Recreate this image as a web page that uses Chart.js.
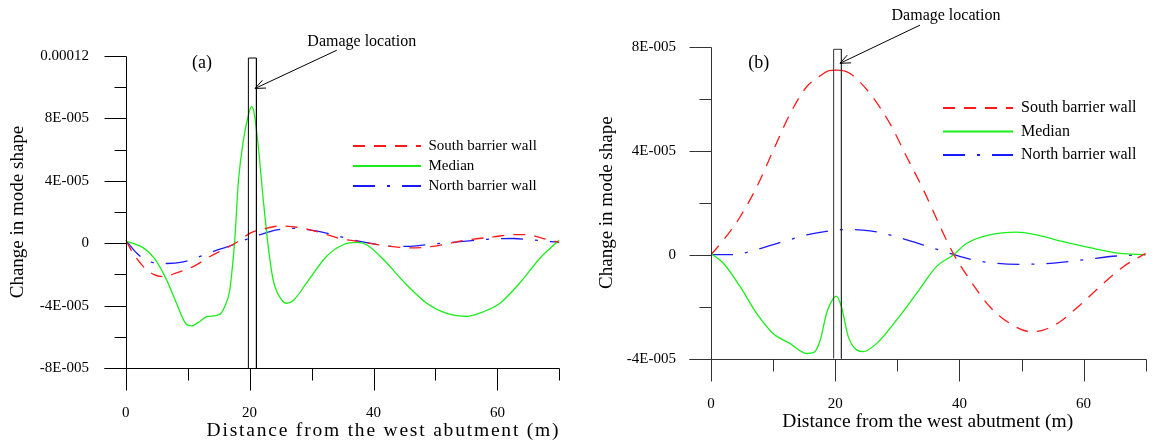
<!DOCTYPE html>
<html>
<head>
<meta charset="utf-8">
<title>Change in mode shape</title>
<script src="https://cdn.jsdelivr.net/npm/chart.js@4/dist/chart.umd.min.js"></script>
<style>
  html, body { margin: 0; padding: 0; background: #fff; }
  #wrap { position: relative; width: 1157px; height: 442px; overflow: hidden; }
  canvas { position: absolute; top: 0; }
</style>
</head>
<body>
<div id="wrap">
  <canvas id="chartA" width="578" height="442" style="left:0"></canvas>
  <canvas id="chartB" width="579" height="442" style="left:578px"></canvas>
</div>
<script>
// series values are written in units of 1e-5
const SCALE = 1e-5;

const seriesNames = ['South barrier wall', 'Median', 'North barrier wall'];
const xTickLabels = ['0', '', '20', '', '40', '', '60', ''];
const yTickLabelsA = ['-8E-005', '', '-4E-005', '', '0', '', '4E-005', '', '8E-005', '', '0.00012'];
const yTickLabelsB = ['-4E-005', '', '0', '', '4E-005', '', '8E-005'];

// (a)
const southA = [[0, 0.2], [1.2, -0.65], [2.85, -1.5], [4.5, -2.0], [6.1, -2.15], [8.2, -1.9], [10.9, -1.5],
  [13.6, -0.85], [16.3, -0.3], [18.5, 0.2], [20.1, 0.65], [22.2, 0.9], [24.9, 1.1], [28.1, 1.0], [30.8, 0.75],
  [34.6, 0.3], [37.8, 0.1], [41.6, -0.15], [45.9, -0.3], [48.6, -0.25], [51.8, -0.05], [55.0, 0.2], [59.3, 0.4],
  [62.6, 0.55], [64.7, 0.55], [67.4, 0.3], [70, 0.05]];
const medianA = [[0, 0.15], [2.85, -0.3], [4.7, -1.0], [6.6, -2.35], [8.2, -3.85], [9.8, -5.2], [10.6, -5.3],
  [12.0, -5.0], [13.1, -4.7], [15.0, -4.6], [16.0, -4.05], [16.8, -3.0], [17.2, -1.6], [17.6, 0.2], [18.2, 4.0],
  [19.0, 6.6], [19.8, 8.2], [20.3, 8.75], [20.7, 8.4], [21.4, 6.2], [22.2, 2.8], [23.0, -0.2], [23.8, -2.35],
  [25.2, -3.65], [26.0, -3.85], [27.1, -3.65], [29.2, -2.55], [32.4, -0.85], [35.1, -0.1], [37.3, 0.05],
  [38.9, -0.1], [41.6, -1.05], [45.3, -2.65], [48.6, -3.85], [51.8, -4.5], [55.0, -4.7], [57.7, -4.4],
  [60.4, -3.85], [63.6, -2.55], [66.9, -0.95], [70, 0.2]];
const northA = [[0, 0.2], [1.8, -0.65], [3.9, -1.2], [6.6, -1.3], [9.3, -1.2], [12.0, -0.85], [14.7, -0.45],
  [17.4, -0.1], [19.5, 0.25], [21.7, 0.55], [24.4, 0.85], [27.1, 0.95], [29.7, 0.85], [33.5, 0.55], [36.7, 0.2],
  [40.0, -0.05], [43.2, -0.2], [45.9, -0.2], [49.7, -0.05], [54.0, 0.1], [58.3, 0.25], [62.6, 0.3], [65.8, 0.2],
  [70, 0.05]];
const damageA = [[19.8, -8], [19.8, 11.87], [21.1, 11.87], [21.1, -8]];

// (b)
const southB = [[0, 0], [2.0, 0.56], [4.7, 1.46], [7.35, 2.6], [10.0, 4.0], [12.7, 5.4], [15.4, 6.46],
  [17.6, 6.88], [19.0, 7.08], [20.2, 7.1], [21.3, 7.08], [22.4, 6.97], [25.6, 6.2], [28.8, 5.05], [31.5, 3.77],
  [34.2, 2.5], [36.9, 1.08], [39.0, 0.05], [41.7, -0.97], [44.9, -2.0], [48.1, -2.64], [51.4, -2.96],
  [53.5, -2.9], [56.2, -2.58], [59.4, -1.94], [63.2, -1.1], [66.4, -0.46], [70, 0.05]];
const medianB = [[0, 0.05], [2.0, -0.33], [4.7, -1.23], [7.35, -2.26], [10.0, -3.03], [12.7, -3.41], [15.4, -3.8],
  [16.5, -3.77], [17.6, -3.28], [18.6, -2.26], [19.7, -1.68], [20.2, -1.59], [21.0, -2.0], [22.1, -3.15],
  [23.5, -3.67], [24.5, -3.73], [26.7, -3.41], [29.9, -2.51], [33.1, -1.49], [36.3, -0.46], [39.0, -0.01],
  [41.2, 0.44], [44.9, 0.76], [49.2, 0.87], [52.4, 0.76], [56.7, 0.5], [61.0, 0.27], [65.9, 0.05], [70, 0]];
const northB = [[0, 0], [3.6, 0], [7.35, 0.2], [11.6, 0.5], [15.4, 0.76], [19.2, 0.92], [21.8, 0.97],
  [25.6, 0.92], [29.9, 0.69], [34.2, 0.37], [38.5, 0.05], [42.2, -0.2], [46.0, -0.33], [50.3, -0.37],
  [54.6, -0.33], [59.9, -0.2], [65.3, -0.05], [70, 0]];
const damageB = [[19.75, -4], [19.75, 7.9], [21.0, 7.9], [21.0, -4]];

const toPoints = pts => pts.map(([x, v]) => ({ x: x, y: v * SCALE }));

Chart.defaults.font.family = '"Liberation Serif", "Times New Roman", serif';
Chart.defaults.color = '#000';

// axis lines and tick marks (labelled ticks are long, the others short)
const axisFrame = color => ({
  id: 'axisFrame',
  afterDraw(chart) {
    const { ctx, chartArea: area, scales: { x, y } } = chart;
    const px = v => Math.round(v) + 0.5;
    const left = px(area.left), bottom = px(area.bottom);
    ctx.save();
    ctx.strokeStyle = color;
    ctx.lineWidth = 1;
    ctx.beginPath();
    ctx.moveTo(left - 22, bottom);
    ctx.lineTo(px(area.right), bottom);
    ctx.moveTo(left, px(area.top));
    ctx.lineTo(left, bottom);
    x.ticks.forEach(t => {
      const p = px(x.getPixelForValue(t.value));
      ctx.moveTo(p, bottom);
      ctx.lineTo(p, bottom + (t.label ? 22 : 12));
    });
    y.ticks.forEach(t => {
      const p = px(y.getPixelForValue(t.value));
      ctx.moveTo(left - (t.label ? 22 : 12), p);
      ctx.lineTo(left, p);
    });
    ctx.stroke();
    ctx.restore();
  }
});

// panel tag, damage note with its arrow, x axis title
const notes = n => ({
  id: 'notes',
  afterDraw(chart) {
    const { ctx, scales: { x, y } } = chart;
    const at = ([vx, vy]) => [x.getPixelForValue(vx), y.getPixelForValue(vy * SCALE)];
    ctx.save();
    ctx.fillStyle = '#000';
    ctx.textAlign = 'center';
    ctx.textBaseline = 'middle';
    ctx.font = '18px "Liberation Serif"';
    let [tx, ty] = at(n.tag);
    ctx.fillText(n.tagText, tx, ty);
    ctx.font = '16px "Liberation Serif"';
    [tx, ty] = at(n.damage);
    ctx.fillText('Damage location', tx, ty);

    const [x1, y1] = at(n.arrowFrom), [x2, y2] = at(n.arrowTo);
    const ang = Math.atan2(y2 - y1, x2 - x1);
    ctx.strokeStyle = '#000';
    ctx.lineWidth = 1;
    ctx.beginPath();
    ctx.moveTo(x1, y1);
    ctx.lineTo(x2, y2);
    [0.4, -0.4].forEach(d => {
      ctx.moveTo(x2, y2);
      ctx.lineTo(x2 - 11 * Math.cos(ang + d), y2 - 11 * Math.sin(ang + d));
    });
    ctx.stroke();

    ctx.font = n.titleFont;
    ctx.letterSpacing = n.titleSpacing + 'px';
    ctx.textBaseline = 'alphabetic';
    ctx.fillText('Distance from the west abutment (m)', x.getPixelForValue(n.titleX), n.titleBaseline);
    ctx.restore();
  }
});

// move the legend box inside the plot
const legendSpot = l => ({
  id: 'legendSpot',
  beforeDraw(chart) {
    const lg = chart.legend;
    lg.left = l.x - l.pad;
    lg.top = l.y - l.size / 2 - l.pad;
    lg.right = chart.width;
    lg.bottom = chart.height;
  }
});

function buildChart(id, p) {
  const canvas = document.getElementById(id);
  const W = canvas.width, H = canvas.height;
  const solid = c => (p.solidTop && c.p0.parsed.x >= p.solidTop[0] && c.p1.parsed.x <= p.solidTop[1]) ? [] : undefined;
  return new Chart(canvas, {
    type: 'line',
    data: {
      datasets: [
        { label: 'damage', data: toPoints(p.damage), borderColor: p.axisColor, borderWidth: 1, tension: 0, pointRadius: 0 },
        { label: seriesNames[0], data: toPoints(p.south), borderColor: '#ff1a1a', borderWidth: 1.3,
          borderDash: [12, 9], pointRadius: 0, cubicInterpolationMode: 'monotone', segment: { borderDash: solid } },
        { label: seriesNames[1], data: toPoints(p.median), borderColor: '#1aee1a', borderWidth: 1.3,
          pointRadius: 0, cubicInterpolationMode: 'monotone' },
        { label: seriesNames[2], data: toPoints(p.north), borderColor: '#1a1aff', borderWidth: 1.3,
          borderDash: [22, 12, 3, 12], pointRadius: 0, cubicInterpolationMode: 'monotone' }
      ]
    },
    options: {
      responsive: false,
      animation: false,
      devicePixelRatio: 1,
      events: [],
      layout: { padding: { left: 0, top: p.area.top, right: W - p.area.right, bottom: 0 } },
      plugins: {
        tooltip: { enabled: false },
        legend: {
          position: 'chartArea',
          align: 'start',
          labels: {
            usePointStyle: true,
            pointStyle: 'line',
            pointStyleWidth: p.legend.width,
            padding: p.legend.pad,
            color: '#000',
            font: { size: p.legend.size },
            generateLabels: chart => Chart.defaults.plugins.legend.labels.generateLabels(chart)
              .filter(item => item.datasetIndex > 0)
              .map(item => {
                const ds = chart.data.datasets[item.datasetIndex];
                return Object.assign(item, { lineWidth: 2, lineDash: ds.borderDash || [], strokeStyle: ds.borderColor });
              })
          }
        }
      },
      scales: {
        x: {
          type: 'linear',
          min: 0,
          max: 70,
          afterFit: s => { s.height = H - p.area.bottom; s.paddingLeft = 0; s.paddingRight = 0; },
          grid: { display: false, drawTicks: false },
          border: { display: false },
          ticks: {
            stepSize: 10, autoSkip: false, maxRotation: 0, padding: 36, color: '#000',
            font: { size: 15 },
            callback: (v, i) => xTickLabels[i]
          }
        },
        y: {
          type: 'linear',
          min: p.yMin * SCALE,
          max: p.yMax * SCALE,
          afterFit: s => { s.width = p.area.left; s.paddingTop = 0; s.paddingBottom = 0; },
          grid: { display: false, drawTicks: false },
          border: { display: false },
          ticks: {
            stepSize: 2 * SCALE, autoSkip: false, padding: p.yPad, color: '#000',
            font: { size: 15 },
            callback: (v, i) => p.yLabels[i]
          },
          title: {
            display: true,
            text: 'Change in mode shape',
            color: '#000',
            font: { size: 19 },
            padding: { top: p.yTitlePad, bottom: 0 }
          }
        }
      }
    },
    plugins: [axisFrame(p.axisColor), notes(p.notes), legendSpot(p.legend)]
  });
}

buildChart('chartA', {
  south: southA, median: medianA, north: northA, damage: damageA,
  yMin: -8, yMax: 12, yLabels: yTickLabelsA, yPad: 36.7, yTitlePad: 6.9,
  area: { left: 125.7, top: 56, right: 559.4, bottom: 368 },
  axisColor: '#000',
  legend: { x: 353, y: 146, pad: 5, width: 68, size: 15 },
  notes: {
    tagText: '(a)', tag: [12.3, 11.54], damage: [38.1, 12.9],
    arrowFrom: [34.07, 12.37], arrowTo: [20.88, 9.92],
    titleX: 41.6, titleBaseline: 436, titleFont: '19.5px "Liberation Serif"', titleSpacing: 1.8
  }
});

buildChart('chartB', {
  south: southB, median: medianB, north: northB, damage: damageB, solidTop: [18.9, 21.4],
  yMin: -4, yMax: 8, yLabels: yTickLabelsB, yPad: 35, yTitlePad: 17.3,
  area: { left: 133, top: 46.7, right: 567.7, bottom: 358.7 },
  axisColor: '#333',
  legend: { x: 365, y: 108, pad: 7.5, width: 70, size: 16 },
  notes: {
    tagText: '(b)', tag: [7.7, 7.36], damage: [37.84, 9.2],
    arrowFrom: [33.66, 8.83], arrowTo: [20.77, 7.36],
    titleX: 34.9, titleBaseline: 426.7, titleFont: '19.5px "Liberation Serif"', titleSpacing: 0
  }
});
</script>
</body>
</html>
